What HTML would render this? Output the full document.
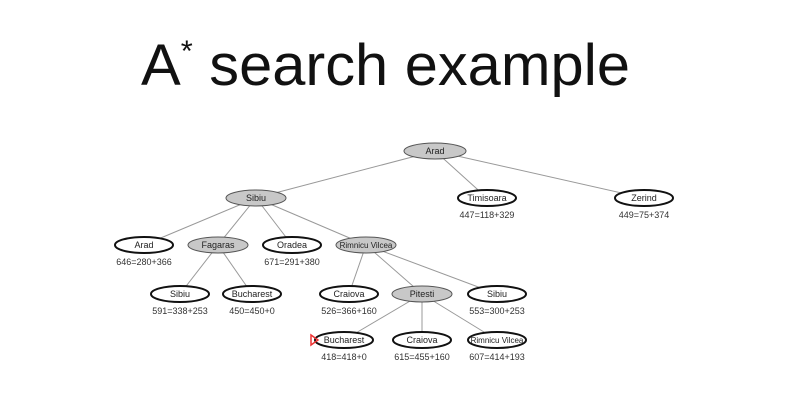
<!DOCTYPE html>
<html><head><meta charset="utf-8"><style>
html,body{margin:0;padding:0;background:#fff;}
svg{display:block;}
</style></head><body>
<svg width="790" height="413" viewBox="0 0 790 413" xmlns="http://www.w3.org/2000/svg" font-family="Liberation Sans, sans-serif">
<text x="141" y="85" font-size="58" textLength="489" lengthAdjust="spacingAndGlyphs" fill="#111">A<tspan font-size="30" dy="-24">*</tspan><tspan dy="24"> search example</tspan></text>
<g stroke="#999" stroke-width="1" fill="none">
<line x1="435" y1="151" x2="256" y2="198"/>
<line x1="435" y1="151" x2="487" y2="198"/>
<line x1="435" y1="151" x2="644" y2="198"/>
<line x1="256" y1="198" x2="144" y2="245"/>
<line x1="256" y1="198" x2="218" y2="245"/>
<line x1="256" y1="198" x2="292" y2="245"/>
<line x1="256" y1="198" x2="366" y2="245"/>
<line x1="218" y1="245" x2="180" y2="294"/>
<line x1="218" y1="245" x2="252" y2="294"/>
<line x1="366" y1="245" x2="349" y2="294"/>
<line x1="366" y1="245" x2="422" y2="294"/>
<line x1="366" y1="245" x2="497" y2="294"/>
<line x1="422" y1="294" x2="344" y2="340"/>
<line x1="422" y1="294" x2="422" y2="340"/>
<line x1="422" y1="294" x2="497" y2="340"/>
</g>
<g stroke="#555" stroke-width="1" fill="#c8c8c8">
<ellipse cx="435" cy="151" rx="31" ry="8"/>
<ellipse cx="256" cy="198" rx="30" ry="8"/>
<ellipse cx="218" cy="245" rx="30" ry="8"/>
<ellipse cx="366" cy="245" rx="30" ry="8"/>
<ellipse cx="422" cy="294" rx="30" ry="8"/>
</g>
<g stroke="#111" stroke-width="2" fill="#fff">
<ellipse cx="487" cy="198" rx="29" ry="8"/>
<ellipse cx="644" cy="198" rx="29" ry="8"/>
<ellipse cx="144" cy="245" rx="29" ry="8"/>
<ellipse cx="292" cy="245" rx="29" ry="8"/>
<ellipse cx="180" cy="294" rx="29" ry="8"/>
<ellipse cx="252" cy="294" rx="29" ry="8"/>
<ellipse cx="349" cy="294" rx="29" ry="8"/>
<ellipse cx="497" cy="294" rx="29" ry="8"/>
<ellipse cx="344" cy="340" rx="29" ry="8"/>
<ellipse cx="422" cy="340" rx="29" ry="8"/>
<ellipse cx="497" cy="340" rx="29" ry="8"/>
</g>
<polygon points="311,335 311,345 318,340" fill="none" stroke="#e33" stroke-width="1.5"/>
<g font-size="9" fill="#222" text-anchor="middle">
<text x="435" y="154">Arad</text>
<text x="256" y="201">Sibiu</text>
<text x="487" y="201">Timisoara</text>
<text x="644" y="201">Zerind</text>
<text x="144" y="248">Arad</text>
<text x="218" y="248">Fagaras</text>
<text x="292" y="248">Oradea</text>
<text x="366" y="248" font-size="8">Rimnicu Vilcea</text>
<text x="180" y="297">Sibiu</text>
<text x="252" y="297">Bucharest</text>
<text x="349" y="297">Craiova</text>
<text x="422" y="297">Pitesti</text>
<text x="497" y="297">Sibiu</text>
<text x="344" y="343">Bucharest</text>
<text x="422" y="343">Craiova</text>
<text x="497" y="343" font-size="8">Rimnicu Vilcea</text>
</g>
<g font-size="9" fill="#333" text-anchor="middle">
<text x="487" y="218">447=118+329</text>
<text x="644" y="218">449=75+374</text>
<text x="144" y="265">646=280+366</text>
<text x="292" y="265">671=291+380</text>
<text x="180" y="314">591=338+253</text>
<text x="252" y="314">450=450+0</text>
<text x="349" y="314">526=366+160</text>
<text x="497" y="314">553=300+253</text>
<text x="344" y="360">418=418+0</text>
<text x="422" y="360">615=455+160</text>
<text x="497" y="360">607=414+193</text>
</g>
</svg>
</body></html>
